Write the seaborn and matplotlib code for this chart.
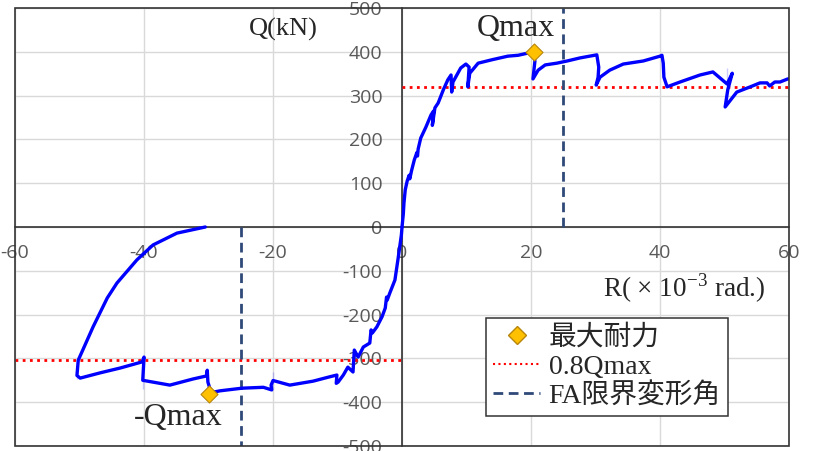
import numpy as np
import pandas as pd
import seaborn as sns
import matplotlib.pyplot as plt
from matplotlib.patches import Rectangle
from matplotlib.lines import Line2D

# skeleton curve, positive side (R in 1e-3 rad, Q in kN)
pos_r = [0, 0.2, 0.3, 0.5, 0.8, 1.1, 1.2, 1.5, 1.9, 2.3, 2.4, 2.5, 2.9, 3.7, 4.5, 4.9, 4.7,
         5.1, 5.6, 6.4, 7.1, 7.6, 7.7, 7.9, 9.1, 9.9, 10.4, 10.2, 10.5, 11.8, 14.0, 16.4,
         18.0, 19.8, 20.4, 20.6, 20.3, 21.1, 22.2, 24.0, 25.6, 27.6, 30.2, 30.5, 30.4,
         30.1, 30.7, 32.2, 34.3, 37.4, 40.0, 40.3, 40.5, 40.6, 41.1, 43.1, 46.2, 48.2,
         50.4, 51.2, 50.5, 50.1, 50.4, 51.9, 54.0, 55.5, 56.6, 57.0, 57.8, 58.6, 59.8, 60.0]
pos_q = [0, 30, 55, 85, 105, 118, 110, 130, 153, 170, 162, 178, 203, 228, 256, 265, 232,
         272, 283, 313, 336, 347, 308, 331, 363, 372, 365, 320, 351, 374, 382, 390,
         392, 398, 400, 378, 338, 358, 370, 374, 379, 386, 393, 365, 342,
         324, 342, 358, 372, 379, 390, 392, 374, 342, 320, 331, 347, 354,
         363, 351, 313, 274, 290, 308, 320, 329, 329, 322, 331, 331, 338, 338]

# skeleton curve, negative side
neg_r = [0, -0.1, -0.6, -1.1, -1.9, -2.3, -2.4, -2.6, -3.1, -3.9, -4.6, -4.8, -5.0, -6.0,
         -6.8, -7.4, -7.6, -8.4, -9.1, -9.9, -10.2, -10.1, -11.2, -13.8, -17.4, -20.0,
         -20.0, -20.3, -20.2, -21.5, -24.8, -28.2, -29.6, -30.1, -30.2, -30.3, -32.4,
         -36.0, -40.2, -40.2, -40.0, -40.3, -43.7, -46.8, -49.9, -50.4, -50.4, -50.2,
         -49.5, -47.9, -45.7, -44.2, -41.1, -38.6, -34.9, -30.5]
neg_q = [0, -18, -71, -121, -151, -167, -160, -185, -205, -228, -242, -235, -265, -274,
         -297, -281, -331, -320, -338, -354, -357, -338, -342, -352, -361, -370,
         -331, -361, -372, -366, -368, -374, -378, -354, -327, -340, -347,
         -361, -369, -331, -297, -308, -322, -333, -345, -347, -331, -304,
         -281, -228, -162, -128, -75, -41, -14, 0]

qmax_r = [20.4, -29.9]
qmax_q = [400, -381]
q08 = [320, -304]
fa_r = [25, -25]

sns.set_style("white")
plt.rcParams['font.family'] = ['Liberation Serif', 'Noto Sans CJK JP']
plt.rcParams['mathtext.fontset'] = 'custom'
plt.rcParams['mathtext.rm'] = 'Liberation Serif'
plt.rcParams['axes.unicode_minus'] = False

fig = plt.figure(figsize=(8.13, 4.51), dpi=100)
ax = fig.add_axes([0.0185, 0.0111, 0.952, 0.9712])

ax.set_xlim(-60, 60)
ax.set_ylim(-500, 500)
ax.set_xticks(range(-60, 61, 20))
ax.set_yticks(range(-500, 501, 100))
ax.grid(True, color='#d9d9d9', lw=1, zorder=0)
ax.set_axisbelow(True)

pos_df = pd.DataFrame({'R': pos_r, 'Q': pos_q})
neg_df = pd.DataFrame({'R': neg_r, 'Q': neg_q})
sns.lineplot(data=pos_df, x='R', y='Q', sort=False, color='#0000ff', lw=2.4, ax=ax, zorder=4)
sns.lineplot(data=neg_df, x='R', y='Q', sort=False, color='#0000ff', lw=2.4, ax=ax, zorder=4)

# 0.8Qmax lines
ax.plot([0, 60], [q08[0], q08[0]], color='#ff0000', lw=2, ls=(0, (1, 1.6)), zorder=3)
ax.plot([-60, 0], [q08[1], q08[1]], color='#ff0000', lw=2, ls=(0, (1, 1.6)), zorder=3)

# FA limit lines
ax.plot([fa_r[0], fa_r[0]], [0, 500], color='#2f4a78', lw=2, ls=(0, (3.5, 2)), zorder=3)
ax.plot([fa_r[1], fa_r[1]], [0, -500], color='#2f4a78', lw=2, ls=(0, (3.5, 2)), zorder=3)

sns.scatterplot(x=qmax_r, y=qmax_q, marker='D', s=75, color='#ffc000',
                edgecolor='#b8860b', linewidth=0.8, ax=ax, zorder=5)

ax.set_xlabel('')
ax.set_ylabel('')

for s in ['left', 'bottom']:
    ax.spines[s].set_position(('data', 0))
    ax.spines[s].set_color('#222222')
    ax.spines[s].set_linewidth(1.1)
for s in ['top', 'right']:
    ax.spines[s].set_visible(False)
ax.add_patch(Rectangle((0, 0), 1, 1, transform=ax.transAxes, fill=False,
                       edgecolor='#333333', lw=1.2, clip_on=False, zorder=6))

ax.tick_params(axis='both', length=0, labelsize=14, labelcolor='#595959')
ax.tick_params(axis='y', pad=14)
ax.tick_params(axis='x', pad=12)
for lab in ax.get_xticklabels() + ax.get_yticklabels():
    lab.set_family('Open Sans')

ax.text(-23.7, 450, 'Q(kN)', fontsize=19, va='center', ha='left')
ax.text(11.6, 454, 'Qmax', fontsize=23, va='center', ha='left')
ax.text(-41.6, -436, '-Qmax', fontsize=23, va='center', ha='left')
ax.text(31.2, -139, 'R( \u00d7 10$^{\\mathregular{-3}}$ rad.)', fontsize=19.5, va='center', ha='left')

handles = [
    Line2D([], [], marker='D', ls='none', markersize=9, markerfacecolor='#ffc000',
           markeredgecolor='#b8860b'),
    Line2D([], [], color='#ff0000', lw=1.5, ls=(0, (1, 1.6))),
    Line2D([], [], color='#2f4a78', lw=2, ls=(0, (3.5, 2))),
]
labels = ['最大耐力', '0.8Qmax', 'FA限界変形角']
leg = ax.legend(handles, labels, loc='upper left', bbox_to_anchor=(0.6085, 0.292),
                fontsize=20, frameon=True, fancybox=False, framealpha=1,
                edgecolor='#333333', handlelength=1.7, handletextpad=0.3,
                labelspacing=0.12, borderpad=0.25, borderaxespad=0)
leg.get_frame().set_linewidth(1.1)
leg.set_zorder(7)

fig.savefig('out.png', dpi=100)
